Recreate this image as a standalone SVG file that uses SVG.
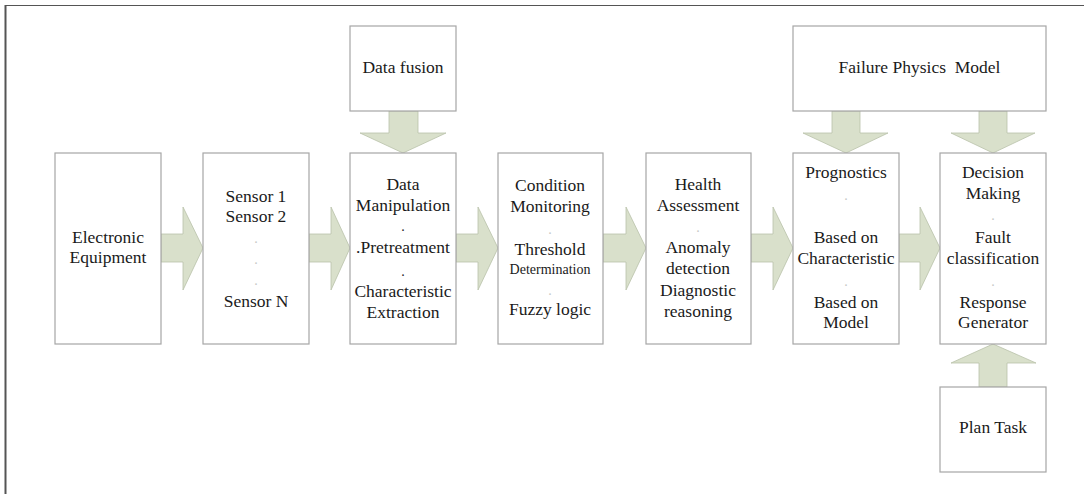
<svg xmlns="http://www.w3.org/2000/svg" width="1084" height="494" viewBox="0 0 1084 494">
<style>
  .box{fill:#ffffff;stroke:#a6a6a6;stroke-width:1.2}
  .arr{fill:#d9e0cb;stroke:#b9c1aa;stroke-width:0.8}
  .t text{font-size:17.5px;fill:#1a1a1a;text-anchor:middle}
  .t .sm{font-size:14px}
  .t .faint{fill:#c8c8c8;font-size:14px}
  .frame{stroke:#555;fill:none}
</style>
<rect x="0" y="0" width="1084" height="494" fill="#ffffff"/>
<line class="frame" x1="5" y1="5.5" x2="1084" y2="5.5" stroke-width="1.2"/>
<line class="frame" x1="5.5" y1="5" x2="5.5" y2="494" stroke-width="2" stroke="#777"/>

<g id="connectors">
  <polygon class="arr" points="161,234 183,234 183,207 203,248 183,290 183,262 161,262"/>
  <polygon class="arr" points="309,234 331,234 331,207 350,248 331,290 331,262 309,262"/>
  <polygon class="arr" points="456,234 478,234 478,207 498,248 478,290 478,262 456,262"/>
  <polygon class="arr" points="603,234 626,234 626,207 646,248 626,290 626,262 603,262"/>
  <polygon class="arr" points="751,234 773,234 773,207 793,248 773,290 773,262 751,262"/>
  <polygon class="arr" points="899,234 920,234 920,207 940,248 920,290 920,262 899,262"/>
  <polygon class="arr" points="389,111 418,111 418,133 446,133 403,153 360,133 389,133"/>
  <polygon class="arr" points="832,111 860,111 860,133 888,133 846,153 803,133 832,133"/>
  <polygon class="arr" points="979,111 1007,111 1007,133 1035,133 993,153 951,133 979,133"/>
  <polygon class="arr" points="979,387 1007,387 1007,363 1036,363 993,344 951,363 979,363"/>
</g>

<g class="t" font-family="Liberation Serif, Times New Roman, serif">
<g id="electronic-equipment">
  <rect class="box" x="55" y="153" width="106" height="191"/>
  <text x="108" y="243">Electronic</text>
  <text x="108" y="263">Equipment</text>
</g>

<g id="sensors">
  <rect class="box" x="203" y="153" width="106" height="191"/>
  <text x="256" y="202">Sensor 1</text>
  <text x="256" y="222">Sensor 2</text>
  <text class="faint" x="256" y="243">.</text>
  <text class="faint" x="256" y="264">.</text>
  <text class="faint" x="256" y="285">.</text>
  <text x="256" y="307">Sensor N</text>
</g>

<g id="data-fusion">
  <rect class="box" x="350" y="26" width="106" height="85"/>
  <text x="403" y="73">Data fusion</text>
</g>

<g id="data-manipulation">
  <rect class="box" x="350" y="153" width="106" height="191"/>
  <text x="403" y="190">Data</text>
  <text x="403" y="211">Manipulation</text>
  <text class="sm" x="403" y="231">.</text>
  <text x="403" y="253">.Pretreatment</text>
  <text class="sm" x="403" y="276">.</text>
  <text x="403" y="297">Characteristic</text>
  <text x="403" y="318">Extraction</text>
</g>

<g id="condition-monitoring">
  <rect class="box" x="498" y="153" width="105" height="191"/>
  <text x="550" y="191">Condition</text>
  <text x="550" y="212">Monitoring</text>
  <text class="faint" x="550" y="234">.</text>
  <text x="550" y="255">Threshold</text>
  <text class="sm" x="550" y="274">Determination</text>
  <text class="faint" x="550" y="295">.</text>
  <text x="550" y="315">Fuzzy logic</text>
</g>

<g id="health-assessment">
  <rect class="box" x="646" y="153" width="105" height="191"/>
  <text x="698" y="190">Health</text>
  <text x="698" y="211">Assessment</text>
  <text class="faint" x="698" y="232">.</text>
  <text x="698" y="253">Anomaly</text>
  <text x="698" y="274">detection</text>
  <text x="698" y="296">Diagnostic</text>
  <text x="698" y="317">reasoning</text>
</g>

<g id="failure-physics-model">
  <rect class="box" x="793" y="26" width="253" height="85"/>
  <text x="919.5" y="73" xml:space="preserve">Failure Physics  Model</text>
</g>

<g id="prognostics">
  <rect class="box" x="793" y="153" width="106" height="191"/>
  <text x="846" y="178">Prognostics</text>
  <text class="faint" x="846" y="200">.</text>
  <text x="846" y="243">Based on</text>
  <text x="846" y="264">Characteristic</text>
  <text class="faint" x="846" y="286">.</text>
  <text x="846" y="308">Based on</text>
  <text x="846" y="328">Model</text>
</g>

<g id="decision-making">
  <rect class="box" x="940" y="153" width="106" height="191"/>
  <text x="993" y="178">Decision</text>
  <text x="993" y="199">Making</text>
  <text class="faint" x="993" y="220">.</text>
  <text x="993" y="243">Fault</text>
  <text x="993" y="264">classification</text>
  <text class="faint" x="993" y="286">.</text>
  <text x="993" y="308">Response</text>
  <text x="993" y="328">Generator</text>
</g>

<g id="plan-task">
  <rect class="box" x="940" y="387" width="106" height="85"/>
  <text x="993" y="433">Plan Task</text>
</g>
</g>
</svg>
